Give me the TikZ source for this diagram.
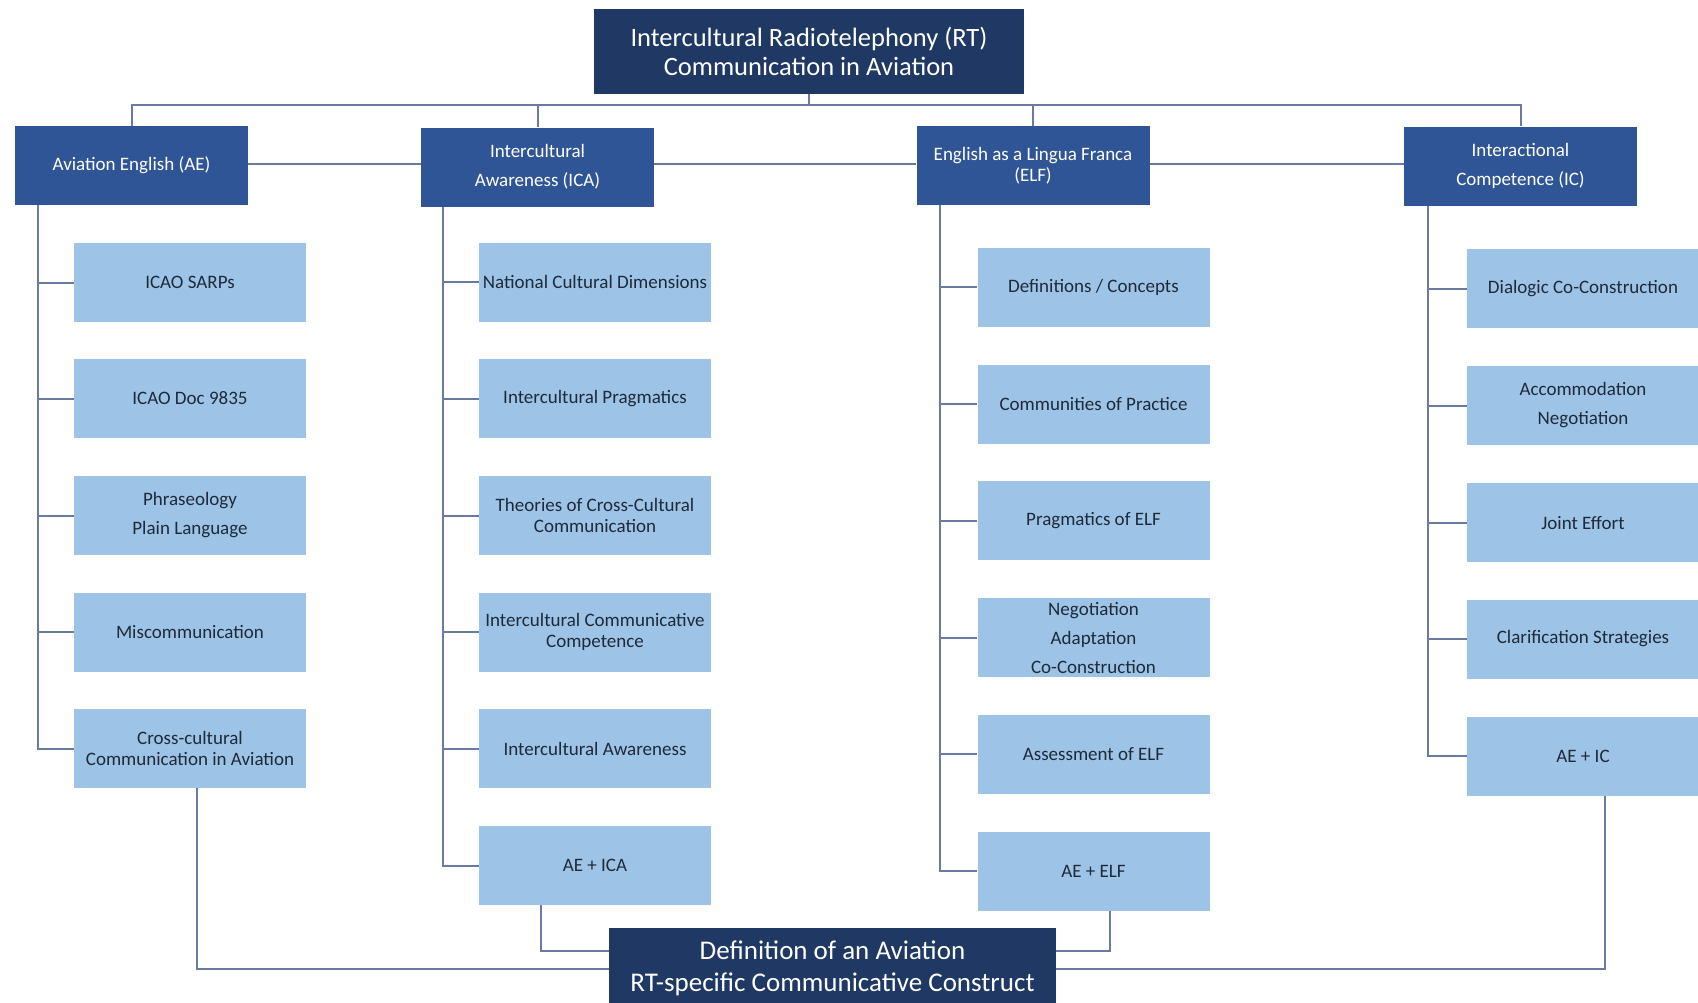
\documentclass[tikz,border=0pt]{standalone}
\usepackage{fontspec}
\setmainfont{Carlito}
\definecolor{navy}{HTML}{1F3864}
\definecolor{headblue}{HTML}{2F5597}
\definecolor{itemblue}{HTML}{9DC3E6}
\definecolor{itemtext}{HTML}{1E2A3A}
\definecolor{wire}{HTML}{6A7AA0}
\begin{document}
\begin{tikzpicture}[x=1pt,y=-1pt,
  mainbox/.style={fill=navy, text=white, align=center, inner sep=0pt,
    font=\fontsize{26.5}{29}\selectfont},
  headbox/.style={fill=headblue, text=white, align=center, inner sep=0pt,
    minimum width=233pt, minimum height=79pt, font=\fontsize{19}{21}\selectfont},
  itembox/.style={fill=itemblue, text=itemtext, align=center, inner sep=0pt,
    minimum width=232pt, minimum height=79pt, font=\fontsize{19}{21}\selectfont},
  wirestyle/.style={draw=wire, line width=2pt}]
\useasboundingbox (0,0) rectangle (1698,1002);
\fill[white] (0,0) rectangle (1698,1002);

% title and final construct
\node[mainbox, minimum width=430pt, minimum height=85pt] (top) at (809,51.5)
  {Intercultural Radiotelephony (RT)\\Communication in Aviation};
\node[mainbox, minimum width=447pt, minimum height=80pt, font=\fontsize{27}{32}\selectfont] (bot) at (832.5,968)
  {Definition of an Aviation\\RT-specific Communicative Construct};

% four research fields
\node[headbox] (ae)  at (131.5,165.5) {Aviation English (AE)};
\node[headbox] (ica) at (537.5,167) {Intercultural\\[8pt]Awareness (ICA)};
\node[headbox] (elf) at (1033,165.5) {English as a Lingua Franca\\(ELF)};
\node[headbox] (ic)  at (1520.5,166) {Interactional\\[8pt]Competence (IC)};

% Aviation English topics
\node[itembox] (a1) at (190,282.5) {ICAO SARPs};
\node[itembox] (a2) at (190,398.5) {ICAO Doc 9835};
\node[itembox] (a3) at (190,515.5) {Phraseology\\[8pt]Plain Language};
\node[itembox] (a4) at (190,632) {Miscommunication};
\node[itembox] (a5) at (190,748.5) {Cross-cultural\\Communication in Aviation};

% Intercultural Awareness topics
\node[itembox] (b1) at (595,282) {National Cultural Dimensions};
\node[itembox] (b2) at (595,398.5) {Intercultural Pragmatics};
\node[itembox] (b3) at (595,515.5) {Theories of Cross-Cultural\\Communication};
\node[itembox] (b4) at (595,632) {Intercultural Communicative\\Competence};
\node[itembox] (b5) at (595,748.5) {Intercultural Awareness};
\node[itembox] (b6) at (595,865.5) {AE + ICA};

% English as a Lingua Franca topics
\node[itembox] (c1) at (1093.5,287) {Definitions / Concepts};
\node[itembox] (c2) at (1093.5,404) {Communities of Practice};
\node[itembox] (c3) at (1093.5,520.5) {Pragmatics of ELF};
\node[itembox] (c4) at (1093.5,637.5) {Negotiation\\[8pt]Adaptation\\[8pt]Co-Construction};
\node[itembox] (c5) at (1093.5,754) {Assessment of ELF};
\node[itembox] (c6) at (1093.5,871) {AE + ELF};

% Interactional Competence topics
\node[itembox] (d1) at (1583,288.5) {Dialogic Co-Construction};
\node[itembox] (d2) at (1583,405.5) {Accommodation\\[8pt]Negotiation};
\node[itembox] (d3) at (1583,522.5) {Joint Effort};
\node[itembox] (d4) at (1583,639) {Clarification Strategies};
\node[itembox] (d5) at (1583,756) {AE + IC};

% branching from the title
\coordinate (bus) at (809,105);
\draw[wirestyle] (top.south) -- (bus);
\draw[wirestyle] (ae.north) |- (bus) -| (ic.north);
\draw[wirestyle] (ica.north) -- (ica.north |- bus);
\draw[wirestyle] (elf.north) -- (elf.north |- bus);

% links between the fields
\draw[wirestyle] ([yshift=2pt]ae.east) -- ([yshift=2pt]ae.east -| ica.west);
\draw[wirestyle] ([yshift=2pt]ae.east -| ica.east) -- ([yshift=2pt]ae.east -| elf.west);
\draw[wirestyle] ([yshift=2pt]ae.east -| elf.east) -- ([yshift=2pt]ae.east -| ic.west);

% spines down each column
\draw[wirestyle] (ae.south -| 38,0) |- (a5.west);
\foreach \n in {a1,a2,a3,a4} \draw[wirestyle] (\n.west) -- (\n.west -| 38,0);
\draw[wirestyle] (ica.south -| 443,0) |- (b6.west);
\foreach \n in {b1,b2,b3,b4,b5} \draw[wirestyle] (\n.west) -- (\n.west -| 443,0);
\draw[wirestyle] (elf.south -| 940,0) |- (c6.west);
\foreach \n in {c1,c2,c3,c4,c5} \draw[wirestyle] (\n.west) -- (\n.west -| 940,0);
\draw[wirestyle] (ic.south -| 1428,0) |- (d5.west);
\foreach \n in {d1,d2,d3,d4} \draw[wirestyle] (\n.west) -- (\n.west -| 1428,0);

% combined topics feeding the construct
\draw[wirestyle] ([xshift=7pt]a5.south) |- ([yshift=-1pt]bot.west);
\draw[wirestyle] ([xshift=-54pt]b6.south) |- ([yshift=17pt]bot.west);
\draw[wirestyle] ([xshift=16.5pt]c6.south) |- ([yshift=17pt]bot.east);
\draw[wirestyle] ([xshift=22pt]d5.south) |- ([yshift=-1pt]bot.east);
\end{tikzpicture}
\end{document}
